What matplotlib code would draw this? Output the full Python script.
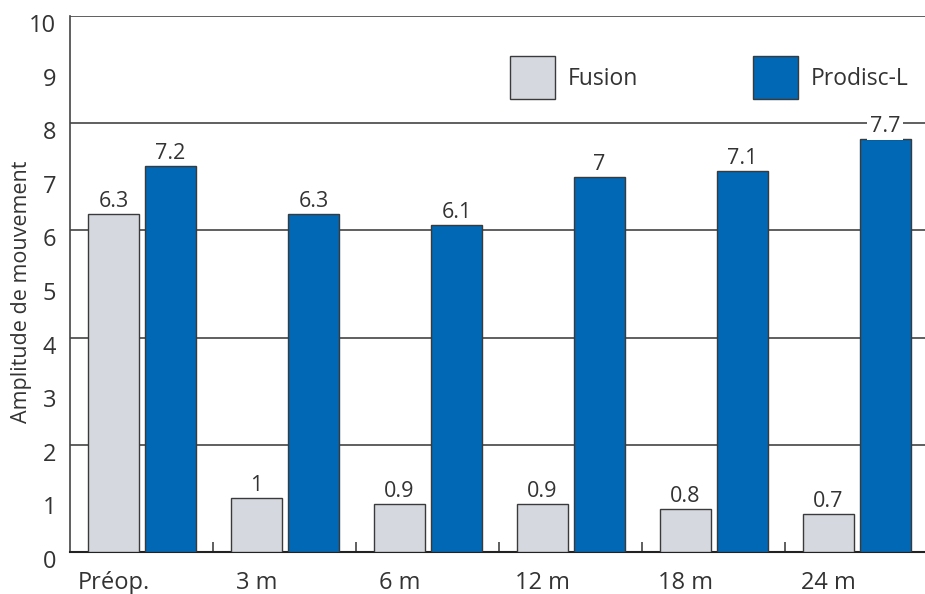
import matplotlib
matplotlib.use("Agg")
import matplotlib.pyplot as plt
import matplotlib.transforms as mtransforms
import numpy as np

# values
periods = ["Préop.", "3 m", "6 m", "12 m", "18 m", "24 m"]
fusion = [6.3, 1, 0.9, 0.9, 0.8, 0.7]
prodisc = [7.2, 6.3, 6.1, 7, 7.1, 7.7]
fusion_labels = ["6.3", "1", "0.9", "0.9", "0.8", "0.7"]
prodisc_labels = ["7.2", "6.3", "6.1", "7", "7.1", "7.7"]

plt.rcParams['font.family'] = ['Open Sans', 'DejaVu Sans']

grey = "#D5D9DF"
blue = "#0068B4"
edge = "#3a3a3a"
text_col = "#333333"

fig = plt.figure(figsize=(9.25, 5.94), dpi=100)
ax = fig.add_axes([0.0757, 0.0707, 0.9243, 0.9023])

x = np.arange(len(periods))
w = 0.357
ax.bar(x + 0.304, fusion, w, color=grey, edgecolor=edge, linewidth=1, label="Fusion", zorder=3)
ax.bar(x + 0.703, prodisc, w, color=blue, edgecolor=edge, linewidth=1, label="Prodisc-L", zorder=3)

for i in range(len(periods)):
    ax.text(x[i] + 0.304, fusion[i] + 0.04, fusion_labels[i], ha="center", va="bottom",
            fontsize=15.5, color=text_col, zorder=4)
    t = ax.text(x[i] + 0.703, prodisc[i] + 0.04, prodisc_labels[i], ha="center", va="bottom",
                fontsize=15.5, color=text_col, zorder=4)
    if prodisc[i] > 7.5:
        t.set_bbox(dict(facecolor="white", edgecolor="none", pad=2))

# grid at even values, short ticks at odd values
for v in [2, 4, 6, 8, 10]:
    ax.axhline(v, color="#444444", linewidth=1.2, zorder=1)

ax.set_xlim(0, 5.98)
ax.set_ylim(0, 10)
ax.set_yticks(range(11))
ax.set_yticks([1, 3, 5, 7, 9], minor=True)
ax.tick_params(axis="y", which="major", length=0, labelsize=17, pad=10, labelcolor=text_col)
ax.tick_params(axis="y", which="minor", direction="in", length=14, width=1.2, color="#444444")

# labels sit a little below their values in the reference
down = mtransforms.ScaledTranslation(0, -7 / 100, fig.dpi_scale_trans)
for lab in ax.get_yticklabels():
    lab.set_transform(lab.get_transform() + down)

ax.set_xticks(x + 0.304)
ax.set_xticklabels(periods)
ax.set_xticks(x[1:], minor=True)
ax.tick_params(axis="x", which="major", length=0, labelsize=17, pad=14, labelcolor=text_col)
ax.tick_params(axis="x", which="minor", direction="in", length=7, width=1.2, color="#444444")

for s in ["top", "right"]:
    ax.spines[s].set_visible(False)
ax.spines["left"].set_color("#444444")
ax.spines["left"].set_linewidth(1.2)
ax.spines["bottom"].set_color("#222222")
ax.spines["bottom"].set_linewidth(1.5)

ax.set_ylabel("Amplitude de mouvement", fontsize=15.5, color=text_col)
ax.yaxis.set_label_coords(-0.044, 0.485)

ax.legend(loc="center left", bbox_to_anchor=(0.501, 0.885), ncol=2, frameon=False,
          fontsize=16.5, handlelength=1.96, handleheight=2.52, handletextpad=0.55,
          columnspacing=5.05, borderpad=0, labelcolor=text_col)

fig.savefig("out.png", dpi=100)
